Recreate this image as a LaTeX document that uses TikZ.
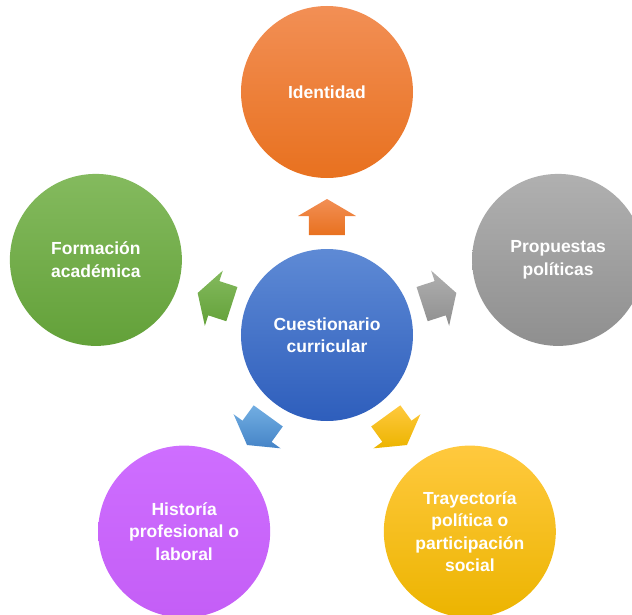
\documentclass[tikz,border=0pt]{standalone}
\usepackage{fontspec}
\setmainfont{Liberation Sans}
\definecolor{orangeT}{HTML}{F28F55}
\definecolor{orangeB}{HTML}{E8711F}
\definecolor{greyT}{HTML}{B0B0B0}
\definecolor{greyB}{HTML}{8F8F8F}
\definecolor{greenT}{HTML}{84BA5E}
\definecolor{greenB}{HTML}{63A139}
\definecolor{blueT}{HTML}{5E8AD5}
\definecolor{blueB}{HTML}{2E5EBC}
\definecolor{purpleT}{HTML}{CE6EFF}
\definecolor{purpleB}{HTML}{C45EF6}
\definecolor{yellowT}{HTML}{FFC93E}
\definecolor{yellowB}{HTML}{ECB400}
\definecolor{lblueT}{HTML}{72AEE2}
\definecolor{lblueB}{HTML}{4584C7}
\begin{document}
\begin{tikzpicture}[x=1pt,y=1pt,
  bubble/.style={circle, minimum size=172pt, inner sep=0pt, text=white, align=center,
    font=\bfseries\fontsize{17.5}{22.5}\selectfont},
  shade2/.style={top color=#1T, bottom color=#1B}]
\useasboundingbox (-327,-279) rectangle (305,335);
\node[bubble, shade2=blue] (center) at (0,0) {Cuestionario\\curricular};
\node[bubble, shade2=orange] (ident) at (90:243) {Identidad};
\node[bubble, shade2=grey] (prop) at (18:243) {Propuestas\\políticas};
\node[bubble, shade2=yellow] (tray) at (-54:243) {Trayectoría\\política o\\participación\\social};
\node[bubble, shade2=purple] (hist) at (-126:243) {Historía\\profesional o\\laboral};
\node[bubble, shade2=green] (form) at (162:243) {Formación\\académica};
\foreach \a/\col in {90/orange,18/grey,-54/yellow,-126/lblue,162/green}{
  \shade[shade2=\col, shift={(\a:118)}, rotate=\a]
    (18,0) -- (1,29) -- (1,18) -- (-18,18) -- (-18,-18) -- (1,-18) -- (1,-29) -- cycle;
}
\end{tikzpicture}
\end{document}
